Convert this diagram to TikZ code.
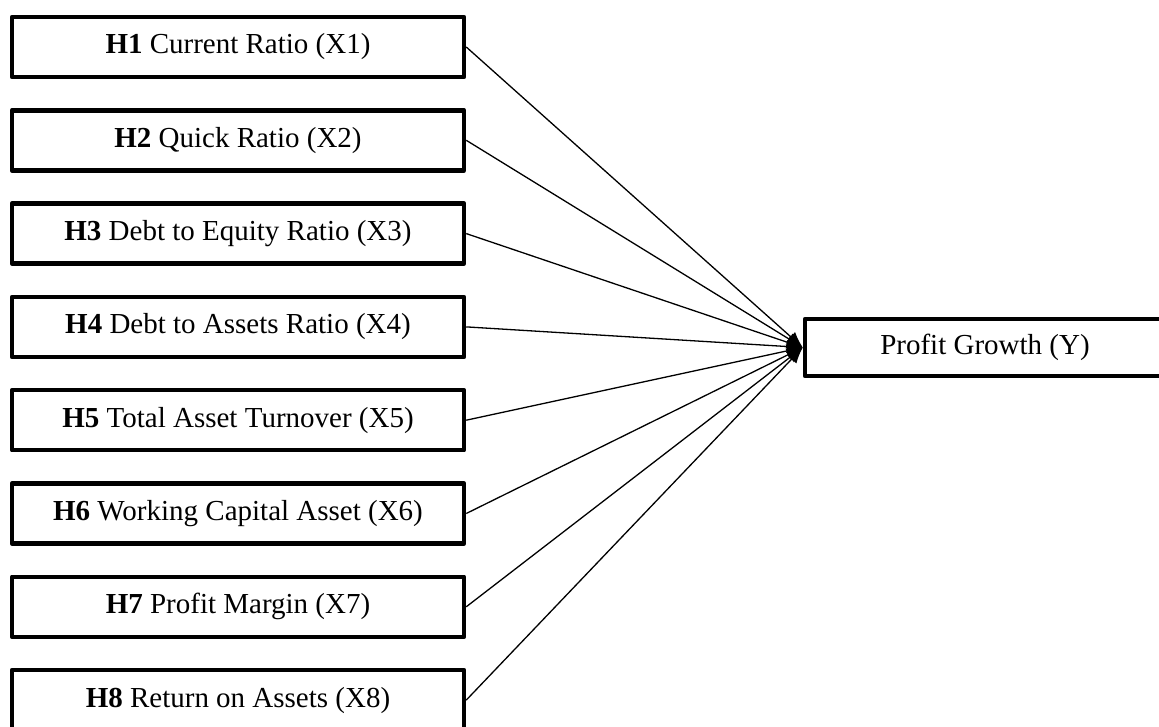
\documentclass[tikz,border=0pt]{standalone}
\usepackage{fontspec}
\setmainfont{Liberation Serif}
\usetikzlibrary{arrows.meta}
\tikzset{varbox/.style={draw, line width=4.5pt, minimum width=452pt, minimum height=60pt,
    inner sep=0pt, font=\fontsize{29}{35}\selectfont}}
\begin{document}
\begin{tikzpicture}[x=1pt, y=1pt, line join=round, >={Latex[length=16pt,width=13pt]}]
	\def\xh{238} \def\ytop{680} \def\dy{93.3}
	\useasboundingbox (0,0) rectangle (1159,727);
	\clip (0,0) rectangle (1159,727);
	\node[varbox] (h1) at (\xh,\ytop) {\textbf{H1} Current Ratio (X1)};
	\node[varbox] (h2) at (\xh,\ytop-\dy) {\textbf{H2} Quick Ratio (X2)};
	\node[varbox] (h3) at (\xh,\ytop-2*\dy) {\textbf{H3} Debt to Equity Ratio (X3)};
	\node[varbox] (h4) at (\xh,\ytop-3*\dy) {\textbf{H4} Debt to Assets Ratio (X4)};
	\node[varbox] (h5) at (\xh,\ytop-4*\dy) {\textbf{H5} Total Asset Turnover (X5)};
	\node[varbox] (h6) at (\xh,\ytop-5*\dy) {\textbf{H6} Working Capital Asset (X6)};
	\node[varbox] (h7) at (\xh,\ytop-6*\dy) {\textbf{H7} Profit Margin (X7)};
	\node[varbox] (h8) at (\xh,\ytop-7*\dy) {\textbf{H8} Return on Assets (X8)};
	\node[varbox, minimum width=360pt, minimum height=57pt] (py) at (985,379.5) {Profit Growth (Y)};
	% hypotheses
	\foreach \i in {1,...,8}
		\draw[->, line width=1.3pt] (h\i.east) -- (py.west);
\end{tikzpicture}
\end{document}
